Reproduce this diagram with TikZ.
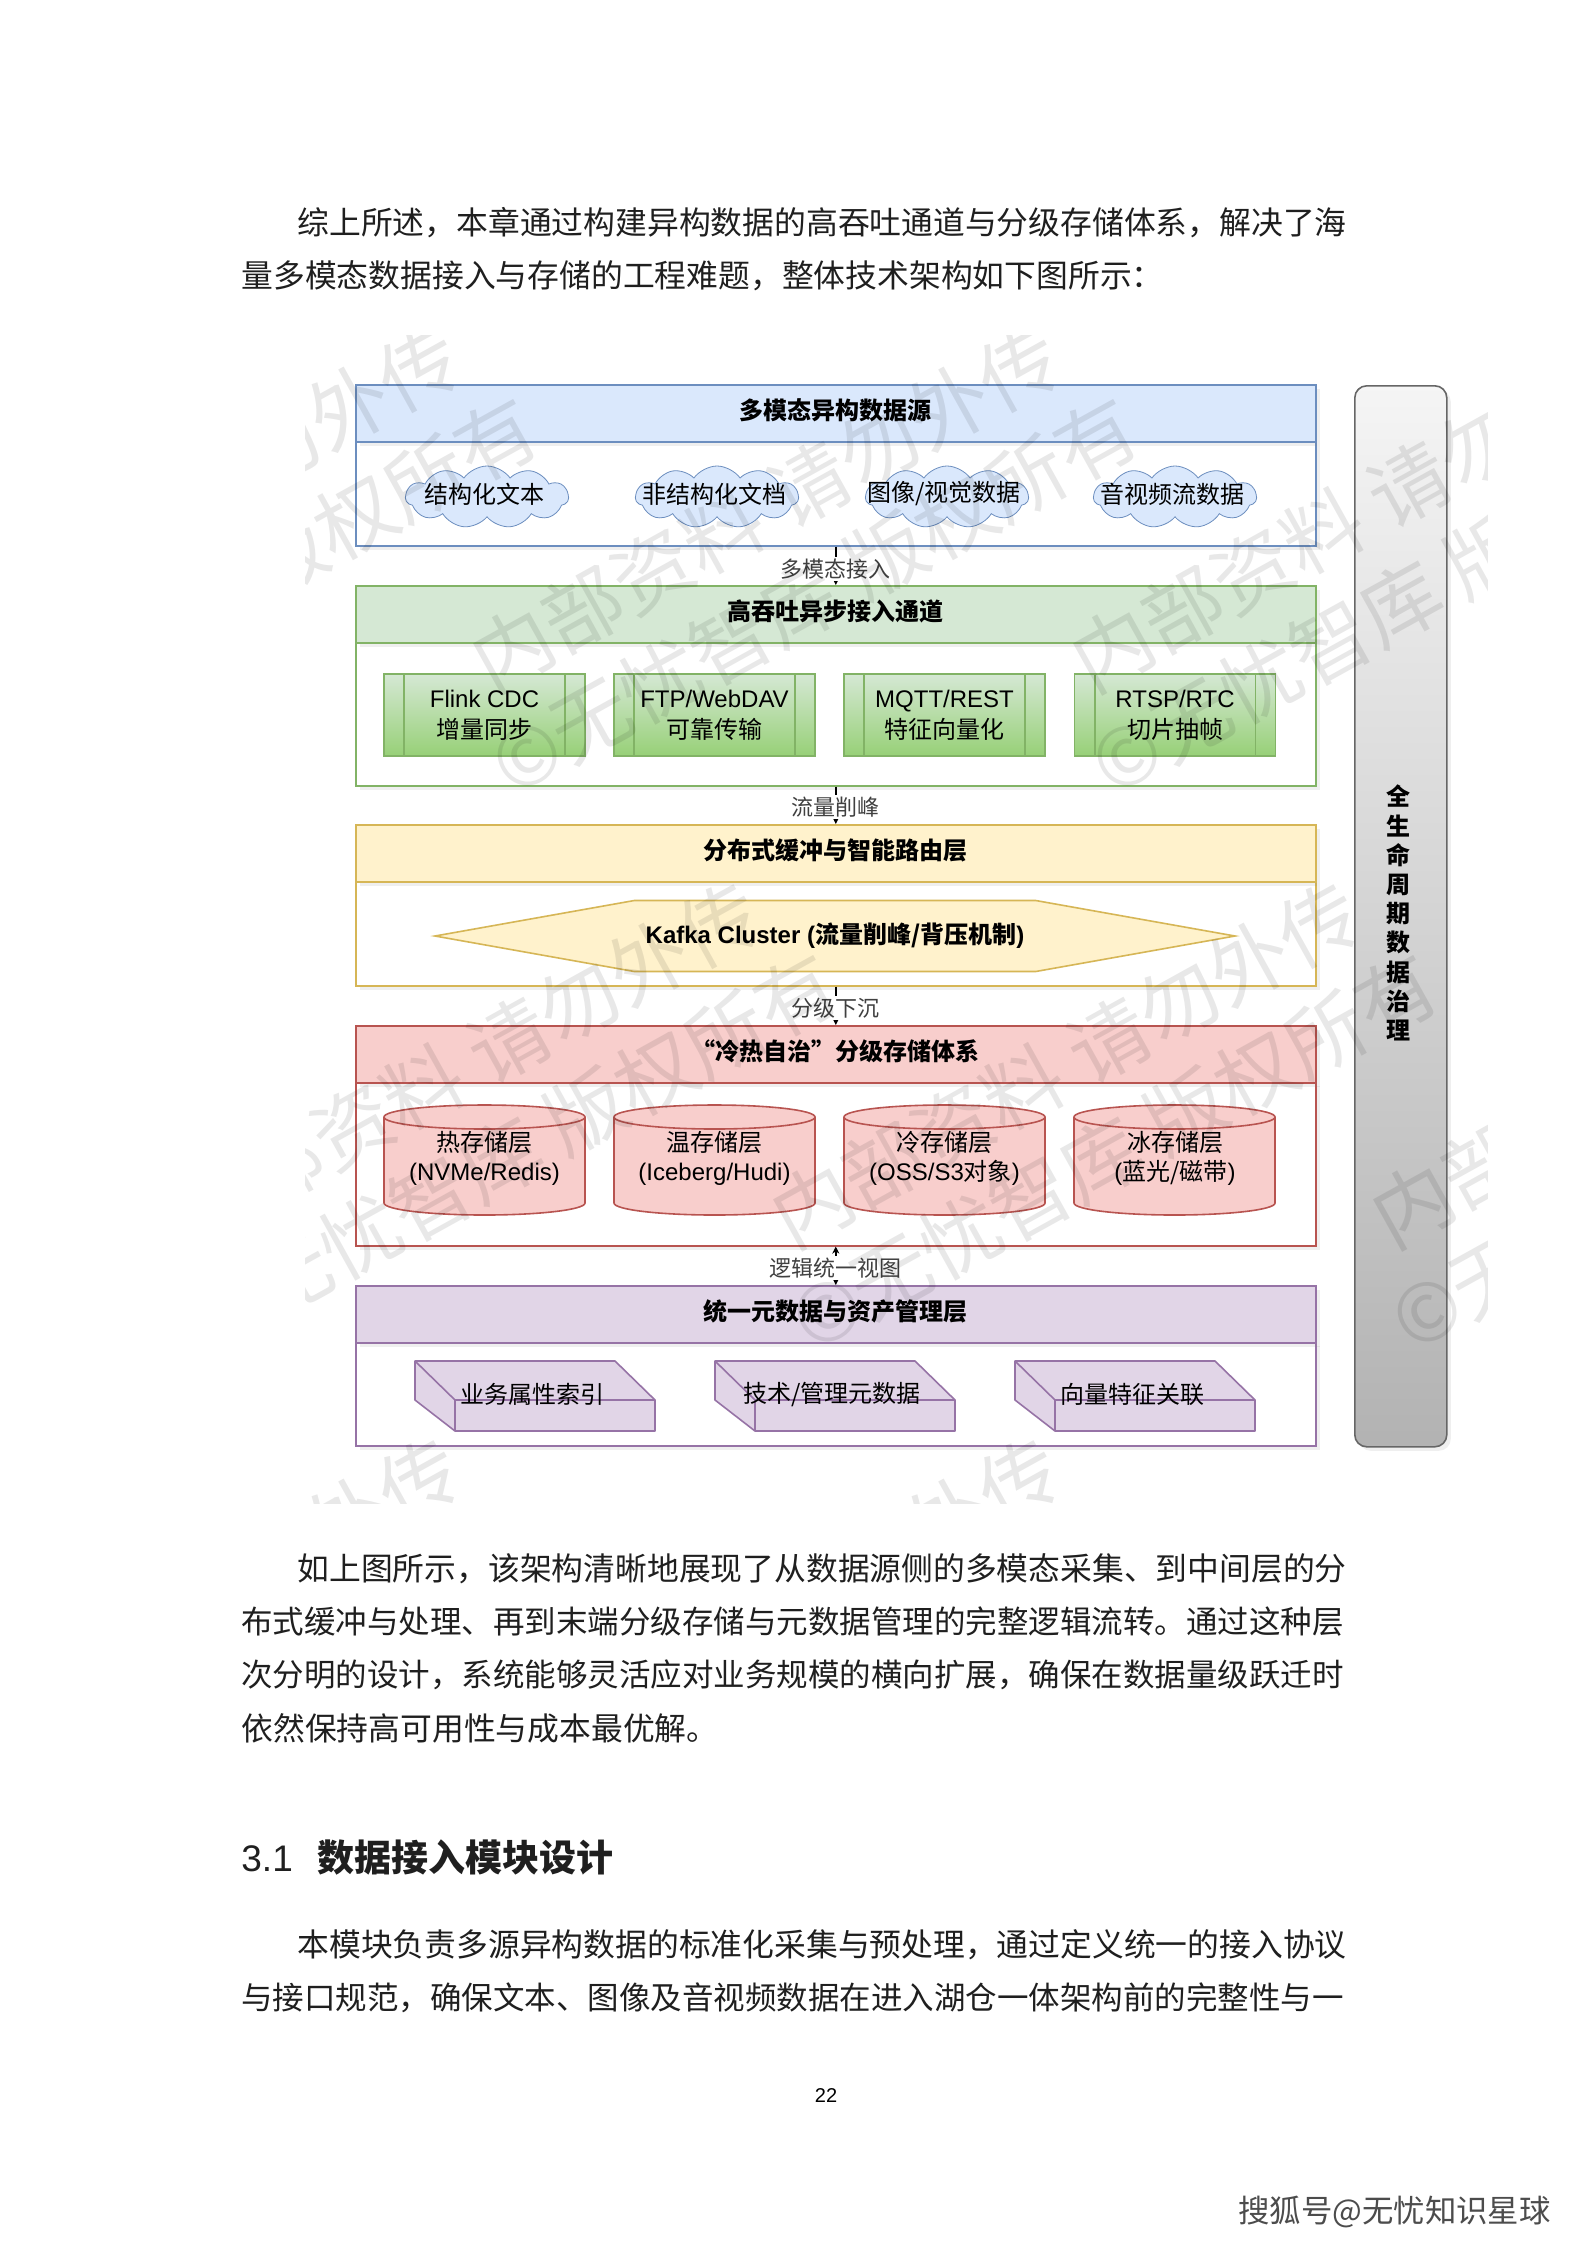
\documentclass[tikz,border=0pt]{standalone}
\usepackage{fontspec}
\setmainfont{Noto Sans CJK SC}
\newfontfamily\lat{Liberation Sans}
\usetikzlibrary{shapes.geometric, shapes.symbols, shadows, arrows.meta}
\definecolor{srcfill}{HTML}{DAE8FC}
\definecolor{srcline}{HTML}{6C8EBF}
\definecolor{pipefill}{HTML}{D5E8D4}
\definecolor{pipeline}{HTML}{82B366}
\definecolor{pipedeep}{HTML}{97D077}
\definecolor{busfill}{HTML}{FFF2CC}
\definecolor{busline}{HTML}{D6B656}
\definecolor{storefill}{HTML}{F8CECC}
\definecolor{storeline}{HTML}{B85450}
\definecolor{metafill}{HTML}{E1D5E7}
\definecolor{metaline}{HTML}{9673A6}
\tikzset{
  softshadow/.style={drop shadow={shadow xshift=2pt, shadow yshift=-2pt, opacity=.12}},
  layerhead/.style={draw=#1, thick, anchor=north west, minimum width=480pt, minimum height=28.5pt, inner sep=0pt,
    softshadow, text depth=4.4pt, font=\fontsize{12}{15}\selectfont\bfseries},
  layerbody/.style={draw=#1, thick, fill=white, anchor=north west, minimum width=480pt, inner sep=0pt, softshadow},
  linkbar/.style={black, line width=.9pt, -{Stealth[length=3.5pt, width=3.5pt]}},
  linktag/.style={fill=white, inner sep=1pt, font=\fontsize{11}{13}\selectfont, text=black!75},
  sourcecloud/.style={cloud, cloud puffs=11, cloud puff arc=110, draw=srcline, fill=srcfill, minimum width=81.5pt, minimum height=31pt,
    inner sep=0pt, aspect=2.6},
  channelbox/.style={draw=pipeline, thick, top color=pipefill, bottom color=pipedeep, minimum width=100.5pt, minimum height=41pt,
    inner sep=0pt, align=center, font=\fontsize{12}{15.5}\selectfont},
  drumface/.style={draw=storeline, thick, fill=storefill, line join=round},
  drumtext/.style={inner sep=0pt, align=center, font=\fontsize{12}{14.5}\selectfont},
  slabface/.style={draw=metaline, thick, fill=metafill, line join=round},
  bodyline/.style={anchor=west, inner sep=0pt, text=black!88, font=\fontsize{15.9}{18}\selectfont},
  longline/.style={bodyline, font=\fontsize{15.75}{18}\selectfont},
  stampmark/.style={rotate=29, align=center, text=black, text opacity=.09, font=\fontsize{40}{50}\selectfont},
}

\begin{document}
\begin{tikzpicture}[x=.5pt, y=-.5pt]
\useasboundingbox (0,0) rectangle (1587,2245);
\fill[white] (0,0) rectangle (1587,2245);

\node[bodyline] (introa) at (297,223) {综上所述，本章通过构建异构数据的高吞吐通道与分级存储体系，解决了海};
\node[bodyline] (introb) at (241,276) {量多模态数据接入与存储的工程难题，整体技术架构如下图所示：};

% layers, top to bottom
\node[layerbody=srcline, minimum height=52pt] (srcbody) at (355,441) {};
\node[layerhead=srcline, fill=srcfill] (srchead) at (355,384) {多模态异构数据源};
\node[layerbody=pipeline, minimum height=71.5pt] (pipebody) at (355,642) {};
\node[layerhead=pipeline, fill=pipefill] (pipehead) at (355,585) {高吞吐异步接入通道};
\node[layerbody=busline, minimum height=52pt] (busbody) at (355,881) {};
\node[layerhead=busline, fill=busfill] (bushead) at (355,824) {分布式缓冲与智能路由层};
\node[layerbody=storeline, minimum height=82pt] (storebody) at (355,1081) {};
\node[layerhead=storeline, fill=storefill] (storehead) at (355,1025) {“冷热自治”分级存储体系};
\node[layerbody=metaline, minimum height=52pt] (metabody) at (355,1341) {};
\node[layerhead=metaline, fill=metafill] (metahead) at (355,1285) {统一元数据与资产管理层};

% sources
\foreach \i/\x/\t in {a/487/结构化文本, b/717/非结构化文档, c/947/{图像/视觉数据}, d/1175/音视频流数据}
  \node[sourcecloud, label={[font=\fontsize{12}{15}\selectfont, yshift=1.5pt, xshift=-1.5pt]center:\t}] (cloud\i) at (\x,497) {};

% channels
\node[channelbox] (chana) at (484.5,715) {{\lat Flink CDC}\\增量同步};
\node[channelbox] (chanb) at (714.5,715) {{\lat FTP/WebDAV}\\可靠传输};
\node[channelbox] (chanc) at (944.5,715) {{\lat MQTT/REST}\\特征向量化};
\node[channelbox] (chand) at (1175,715) {{\lat RTSP/RTC}\\切片抽帧};
\foreach \i in {a,b,c,d} {
  \draw[pipeline, thick] ([xshift=10.5pt]chan\i.north west) -- ([xshift=10.5pt]chan\i.south west);
  \draw[pipeline, thick] ([xshift=-10.5pt]chan\i.north east) -- ([xshift=-10.5pt]chan\i.south east);
}

% kafka
\node[signal, signal to=west and east, signal pointer angle=20.2, draw=busline, thick, fill=busfill, minimum width=400pt, minimum height=35.5pt,
      inner sep=0pt, font=\fontsize{12}{15}\selectfont\bfseries] (kafka) at (835,936) {{\lat Kafka Cluster (}流量削峰/背压机制{\lat )}};

% storage tiers
\foreach \x in {384,614,844,1074} {
  \draw[drumface] (\x,1117) arc[start angle=180, end angle=360, x radius=100.5, y radius=12] -- ++(0,86)
    arc[start angle=0, end angle=180, x radius=100.5, y radius=12] -- cycle;
  \draw[drumface, fill=none] (\x,1117) arc[start angle=180, end angle=0, x radius=100.5, y radius=12];
}
\node[drumtext] (drumtexta) at (484.5,1158) {热存储层\\{\lat (NVMe/Redis)}};
\node[drumtext] (drumtextb) at (714.5,1158) {温存储层\\{\lat (Iceberg/Hudi)}};
\node[drumtext] (drumtextc) at (944.5,1158) {冷存储层\\{\lat (OSS/S3}对象{\lat )}};
\node[drumtext] (drumtextd) at (1175,1158) {冰存储层\\{\lat (}蓝光/磁带{\lat )}};

% metadata slabs
\foreach \i/\x/\t in {a/415/业务属性索引, b/715/{技术/管理元数据}, c/1015/向量特征关联} {
  \draw[slabface] (\x,1361) -- ++(200,0) -- ++(40,39) -- ++(0,31) -- ++(-200,0) -- ++(-40,-31) -- cycle;
  \draw[slabface, fill=none] (\x,1361) -- (\x+40,1400) -- (\x+240,1400) (\x+40,1400) -- (\x+40,1431);
  \node[font=\fontsize{12}{15}\selectfont] (slab\i) at (\x+117,1394) {\t};
}

% links between layers
\draw[linkbar] (srcbody.south) -- node[linktag, pos=.58] {多模态接入} (pipehead.north);
\draw[linkbar] (pipebody.south) -- node[linktag, pos=.55] {流量削峰} (bushead.north);
\draw[linkbar] (busbody.south) -- node[linktag, pos=.55] {分级下沉} (storehead.north);
\draw[linkbar, {Stealth[length=3.5pt, width=3.5pt]}-{Stealth[length=3.5pt, width=3.5pt]}] (storebody.south) -- node[linktag, pos=.55] {逻辑统一视图} (metahead.north);

% governance bar
\node[draw=black!60, thick, rounded corners=6pt, top color=black!4, bottom color=black!30, anchor=north west, minimum width=46pt, minimum height=530.5pt,
      inner sep=0pt, softshadow] (govbar) at (1354,385) {};
\node[align=center, inner sep=0pt, font=\fontsize{12}{14.6}\selectfont\bfseries] (govtext) at (1398,913) {全\\生\\命\\周\\期\\数\\据\\治\\理};

% stamp over the figure
\begin{scope}
\clip (305,335) rectangle (1487,1503);
\foreach \i/\x/\y in {a/190/552, b/790/552, c/1390/552, d/-110/1108, e/490/1108, f/1090/1108, g/1690/1108, h/190/1664, i/790/1664, j/1390/1664}
  \node[stampmark] (stamp\i) at (\x,\y) {内部资料 请勿外传\\©无忧智库 版权所有};
\end{scope}

\node[bodyline] (notea) at (297,1569) {如上图所示，该架构清晰地展现了从数据源侧的多模态采集、到中间层的分};
\node[longline] (noteb) at (241,1622) {布式缓冲与处理、再到末端分级存储与元数据管理的完整逻辑流转。通过这种层};
\node[longline] (notec) at (241,1675) {次分明的设计，系统能够灵活应对业务规模的横向扩展，确保在数据量级跃迁时};
\node[bodyline] (noted) at (241,1728) {依然保持高可用性与成本最优解。};
\node[bodyline, font=\fontsize{18.5}{22}\selectfont\bfseries] (sechead) at (241,1857) {{\lat\mdseries 3.1}\hspace{12.5pt}数据接入模块设计};
\node[bodyline] (parta) at (297,1945) {本模块负责多源异构数据的标准化采集与预处理，通过定义统一的接入协议};
\node[longline] (partb) at (241,1998) {与接口规范，确保文本、图像及音视频数据在进入湖仓一体架构前的完整性与一};
\node[inner sep=0pt, font=\fontsize{10}{12}\selectfont\lat] (pagenum) at (826,2095) {22};
\node[anchor=west, inner sep=0pt, text=black!70, font=\fontsize{15.7}{20}\selectfont] (sitemark) at (1238,2212) {搜狐号@无忧知识星球};
\end{tikzpicture}
\end{document}
